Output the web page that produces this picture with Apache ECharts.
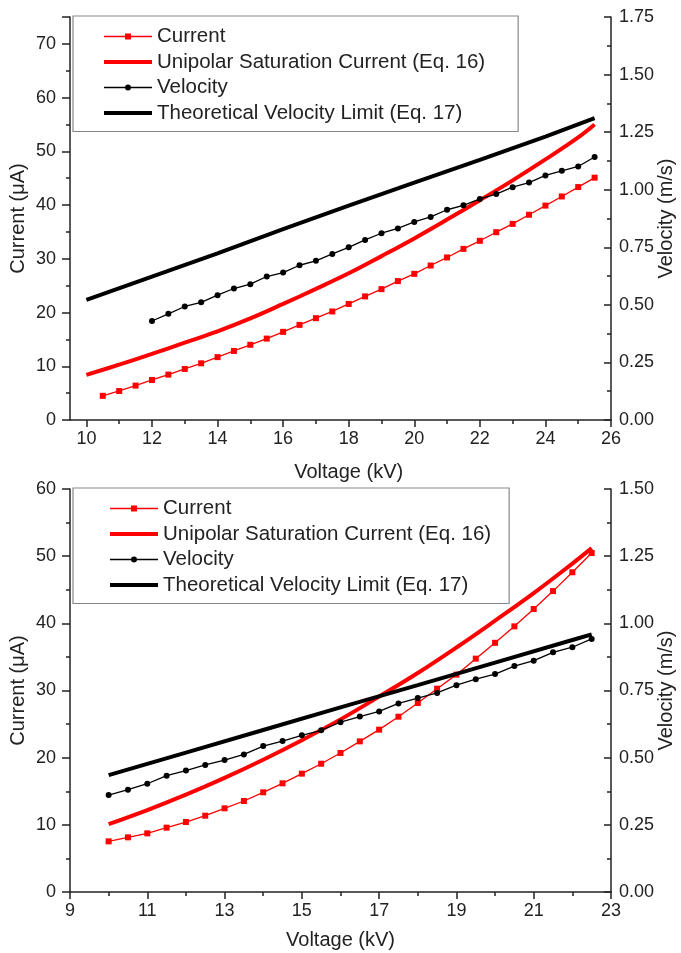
<!DOCTYPE html>
<html><head><meta charset="utf-8">
<script src="https://cdn.jsdelivr.net/npm/echarts@6/dist/echarts.min.js"></script>
<style>html,body{margin:0;padding:0;background:#fff;overflow:hidden}#c{width:681px;height:953px}</style>
</head><body><div id="c"></div>
<script>
// ---------- Top panel data ----------
const topCurrentV = [10.5,11,11.5,12,12.5,13,13.5,14,14.5,15,15.5,16,16.5,17,17.5,18,18.5,19,19.5,20,20.5,21,21.5,22,22.5,23,23.5,24,24.5,25,25.5];
const topCurrent = [4.5,5.4,6.4,7.45,8.45,9.5,10.55,11.7,12.85,14.0,15.15,16.4,17.7,18.95,20.2,21.6,23.0,24.35,25.85,27.2,28.75,30.25,31.85,33.35,34.95,36.5,38.2,39.9,41.6,43.35,45.1];
const topVelocityV = [12,12.5,13,13.5,14,14.5,15,15.5,16,16.5,17,17.5,18,18.5,19,19.5,20,20.5,21,21.5,22,22.5,23,23.5,24,24.5,25,25.5];
const topVelocity = [0.430,0.461,0.493,0.511,0.542,0.571,0.590,0.623,0.640,0.672,0.691,0.721,0.750,0.782,0.811,0.832,0.860,0.882,0.913,0.932,0.960,0.981,1.011,1.031,1.062,1.082,1.101,1.142];
const topSatV = [10,11,12,13,14,15,16,17,18,19,20,21,22,23,24,25,25.5];
const topSaturation = [8.4,10.3,12.3,14.4,16.5,18.9,21.6,24.4,27.3,30.5,33.8,37.3,40.9,44.6,48.5,52.6,55.0];
const topLimitV = [10,12,14,16,18,20,22,24,25.5];
const topLimit = [0.522,0.623,0.724,0.829,0.931,1.031,1.130,1.231,1.311];
const topTicks = [10,12,14,16,18,20,22,24,26];

// ---------- Bottom panel data ----------
const botV = [10,10.5,11,11.5,12,12.5,13,13.5,14,14.5,15,15.5,16,16.5,17,17.5,18,18.5,19,19.5,20,20.5,21,21.5,22,22.5];
const botCurrent = [7.54,8.14,8.73,9.58,10.42,11.36,12.46,13.55,14.84,16.18,17.62,19.1,20.7,22.43,24.17,26.1,28.14,30.27,32.36,34.74,37.1,39.55,42.13,44.8,47.6,50.47];
const botVelocity = [0.361,0.381,0.403,0.433,0.452,0.473,0.491,0.512,0.543,0.562,0.583,0.602,0.632,0.653,0.672,0.702,0.722,0.741,0.770,0.792,0.811,0.841,0.861,0.892,0.911,0.942];
const botSatV = [10,11,12,13,14,15,16,17,18,19,20,21,22,22.5];
const botSaturation = [10.1,12.2,14.5,17.0,19.7,22.6,25.7,29.1,32.6,36.4,40.4,44.5,48.9,51.2];
const botLimitV = [10,12,14,16,18,20,22,22.5];
const botLimit = [0.435,0.519,0.603,0.687,0.770,0.854,0.938,0.959];

const names = ['Current','Unipolar Saturation Current (Eq. 16)','Velocity','Theoretical Velocity Limit (Eq. 17)'];
const xName = 'Voltage (kV)';
const yLeftName = 'Current (\u03bcA)';
const yRightName = 'Velocity (m/s)';

const FONT = 'Liberation Sans, Arial, sans-serif';
const AX = '#222';
const zip = (a, b) => a.map((v, i) => [v, b[i]]);

const icons = [
  'path://M0,3.35H48V4.65H0Z M21,1H27V7H21Z',
  'path://M0,2H48V6H0Z',
  'path://M0,3.35H48V4.65H0Z M27,4A3,3,0,1,1,21,4A3,3,0,1,1,27,4Z',
  'path://M0,2H48V6H0Z'
];

function xAxisCfg(grid, min, max, opts) {
  const o = Object.assign({line: true, ticks: true, name: true, gap: 40}, opts || {});
  return {
    type: 'value', gridIndex: grid, min: min, max: max, interval: 2,
    name: o.name ? xName : '', nameLocation: 'middle', nameGap: o.gap, nameMoveOverlap: false,
    nameTextStyle: {fontSize: 20, color: AX, fontFamily: FONT},
    axisLine: {show: o.line, onZero: false, lineStyle: {color: AX, width: 1.5}},
    axisTick: {show: o.ticks, inside: false, length: 7, lineStyle: {color: AX, width: 1.5}},
    minorTick: {show: o.ticks, splitNumber: 2, length: 4, lineStyle: {color: AX, width: 1.5}},
    splitLine: {show: false}, minorSplitLine: {show: false},
    axisLabel: {show: o.ticks, fontSize: 18, color: AX, fontFamily: FONT, margin: 10}
  };
}
function yLeftCfg(grid, max) {
  return {
    type: 'value', gridIndex: grid, position: 'left', min: 0, max: max, interval: 10,
    name: yLeftName, nameLocation: 'middle', nameGap: 42, nameMoveOverlap: false,
    nameTextStyle: {fontSize: 20, color: AX, fontFamily: FONT},
    axisLine: {show: true, lineStyle: {color: AX, width: 1.5}},
    axisTick: {show: true, inside: false, length: 8, lineStyle: {color: AX, width: 1.5}},
    minorTick: {show: true, splitNumber: 2, length: 4, lineStyle: {color: AX, width: 1.5}},
    splitLine: {show: false}, minorSplitLine: {show: false},
    axisLabel: {fontSize: 18, color: AX, fontFamily: FONT, margin: 14,
      formatter: v => (v % 10 === 0 ? String(v) : '')}
  };
}
function yRightCfg(grid, max) {
  return {
    type: 'value', gridIndex: grid, position: 'right', min: 0, max: max, interval: 0.25,
    name: yRightName, nameLocation: 'middle', nameGap: 45, nameMoveOverlap: false,
    nameTextStyle: {fontSize: 20, color: AX, fontFamily: FONT},
    axisLine: {show: true, lineStyle: {color: AX, width: 1.5}},
    axisTick: {show: true, inside: true, length: 7, lineStyle: {color: AX, width: 1.5}},
    minorTick: {show: true, splitNumber: 2, length: 4, lineStyle: {color: AX, width: 1.5}},
    splitLine: {show: false}, minorSplitLine: {show: false},
    axisLabel: {fontSize: 18, color: AX, fontFamily: FONT, margin: 8, formatter: v => v.toFixed(2)}
  };
}
function seriesSet(xi, yl, yr, cur, sat, vel, lim) {
  return [
    {name: names[0], type: 'line', xAxisIndex: xi, yAxisIndex: yl, data: cur,
     symbol: 'rect', symbolSize: 6, showSymbol: true,
     lineStyle: {color: '#ff0000', width: 1.3}, itemStyle: {color: '#ff0000'}, z: 3},
    {name: names[1], type: 'line', xAxisIndex: xi, yAxisIndex: yl, data: sat,
     symbol: 'none', smooth: 0.4,
     lineStyle: {color: '#ff0000', width: 4}, itemStyle: {color: '#ff0000'}, z: 4},
    {name: names[2], type: 'line', xAxisIndex: xi, yAxisIndex: yr, data: vel,
     symbol: 'circle', symbolSize: 6, showSymbol: true,
     lineStyle: {color: '#000', width: 1.3}, itemStyle: {color: '#000'}, z: 5},
    {name: names[3], type: 'line', xAxisIndex: xi, yAxisIndex: yr, data: lim,
     symbol: 'none',
     lineStyle: {color: '#000', width: 4}, itemStyle: {color: '#000'}, z: 6}
  ];
}
function legendCfg(top, padding) {
  return {
    show: true, orient: 'vertical', left: 73, top: top,
    data: names.map((n, i) => ({name: n, icon: icons[i]})),
    padding: padding, itemWidth: 48, itemHeight: 8, itemGap: 4.5,
    backgroundColor: '#fff', borderColor: '#888', borderWidth: 1.2, borderRadius: 0,
    selectedMode: false,
    textStyle: {fontSize: 20.5, color: AX, fontFamily: FONT, lineHeight: 20},
    z: 10
  };
}

// the first labelled tick (10 kV) sits 0.5 kV inside the top panel's 9.5-26 kV span
const topLeft = 70, plotW = 541, topMin = 9.5, topMax = 26;
const tickGridLeft = topLeft + plotW * (topTicks[0] - topMin) / (topMax - topMin);

const chart = echarts.init(document.getElementById('c'), null, {renderer: 'canvas'});
chart.setOption({
  animation: false,
  backgroundColor: '#fff',
  grid: [
    {left: topLeft, width: plotW, top: 17, height: 403, containLabel: false, outerBoundsMode: 'none'},
    {left: 70, width: plotW, top: 489, height: 403, containLabel: false, outerBoundsMode: 'none'},
    {left: tickGridLeft, width: topLeft + plotW - tickGridLeft, top: 17, height: 403, containLabel: false, outerBoundsMode: 'none'}
  ],
  xAxis: [
    xAxisCfg(0, topMin, topMax, {ticks: false, name: false}),
    xAxisCfg(1, 9, 23, {gap: 38}),
    xAxisCfg(2, topTicks[0], topTicks[topTicks.length - 1], {line: false, gap: 42})
  ],
  yAxis: [yLeftCfg(0, 75), yRightCfg(0, 1.75), yLeftCfg(1, 60), yRightCfg(1, 1.5),
    {type: 'value', gridIndex: 2, show: false, min: 0, max: 1}],
  legend: [legendCfg(16, [10, 33, 8, 31]), legendCfg(488, [10, 18, 8, 37])],
  series: [
    ...seriesSet(0, 0, 1, zip(topCurrentV, topCurrent), zip(topSatV, topSaturation), zip(topVelocityV, topVelocity), zip(topLimitV, topLimit)),
    ...seriesSet(1, 2, 3, zip(botV, botCurrent), zip(botSatV, botSaturation), zip(botV, botVelocity), zip(botLimitV, botLimit))
  ]
});
</script></body></html>
